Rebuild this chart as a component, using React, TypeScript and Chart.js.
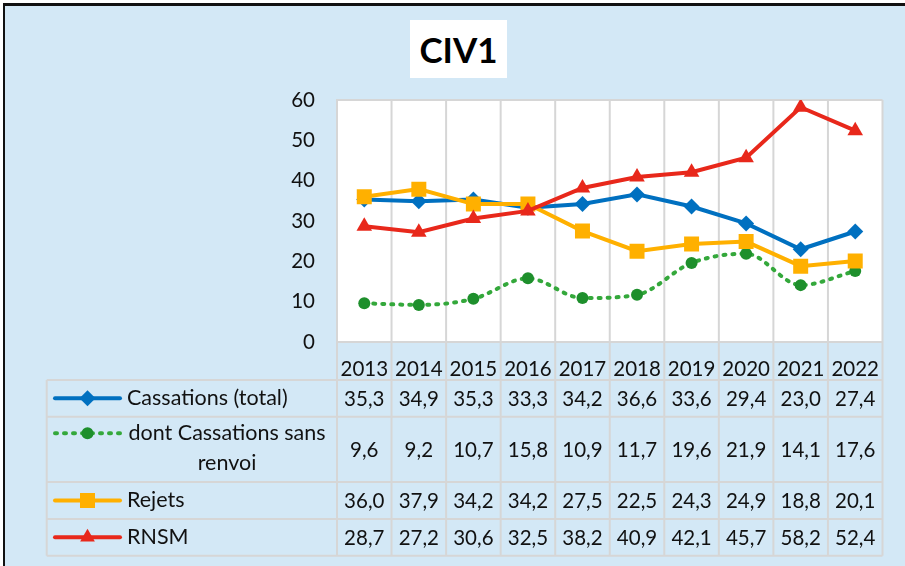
import React, { useEffect, useRef } from 'react';
import { Chart, registerables } from 'chart.js';

Chart.register(...registerables);

const years = ['2013', '2014', '2015', '2016', '2017', '2018', '2019', '2020', '2021', '2022'];
const cassationsTotal = [35.3, 34.9, 35.3, 33.3, 34.2, 36.6, 33.6, 29.4, 23.0, 27.4];
const cassationsSansRenvoi = [9.6, 9.2, 10.7, 15.8, 10.9, 11.7, 19.6, 21.9, 14.1, 17.6];
const rejets = [36.0, 37.9, 34.2, 34.2, 27.5, 22.5, 24.3, 24.9, 18.8, 20.1];
const rnsm = [28.7, 27.2, 30.6, 32.5, 38.2, 40.9, 42.1, 45.7, 58.2, 52.4];
const seriesNames = ['Cassations (total)', 'dont Cassations sans renvoi', 'Rejets', 'RNSM'];
const seriesLines = [['Cassations (total)'], ['dont Cassations sans', 'renvoi'], ['Rejets'], ['RNSM']];
const yMin = 0;
const yMax = 60;
const yStep = 10;
const title = 'CIV1';

const BLUE = '#0070C0';
const GREEN = '#34A83B';
const GREEN_DOT = '#1E8F2C';
const ORANGE = '#FFB000';
const RED = '#E8281B';
const GRID = '#D6D6D6';
const BG = '#D3E8F6';
const FONT = 'Lato, "Noto Sans", sans-serif';

const TABLE_LEFT = 46.7;
const ROW_LINES = [380, 416.7, 482, 519, 555.7];
const LEG_X0 = 55;
const LEG_X1 = 120;
const LEG_TEXT_X = 127;

function drawMarker(ctx: CanvasRenderingContext2D, kind: string, x: number, y: number, color: string) {
  ctx.save();
  ctx.fillStyle = color;
  ctx.setLineDash([]);
  ctx.beginPath();
  if (kind === 'diamond') {
    const r = 8;
    ctx.moveTo(x, y - r); ctx.lineTo(x + r, y); ctx.lineTo(x, y + r); ctx.lineTo(x - r, y); ctx.closePath();
  } else if (kind === 'circle') {
    ctx.arc(x, y, 6, 0, Math.PI * 2);
  } else if (kind === 'square') {
    ctx.rect(x - 7.5, y - 7.5, 15, 15);
  } else {
    const r = 8.5;
    const h = r * 1.5;
    const w = r * Math.sqrt(3);
    ctx.moveTo(x, y - h * 2 / 3); ctx.lineTo(x + w / 2, y + h / 3); ctx.lineTo(x - w / 2, y + h / 3); ctx.closePath();
  }
  ctx.fill();
  ctx.restore();
}

const tablePlugin = {
  id: 'dataTable',
  beforeDraw(chart: any) {
    const { ctx, chartArea: a } = chart;
    ctx.save();
    ctx.fillStyle = '#FFFFFF';
    ctx.fillRect(a.left, a.top, a.right - a.left, a.bottom - a.top);
    ctx.restore();
  },
  beforeDatasetsDraw(chart: any) {
    const { ctx, chartArea: a } = chart;
    const xs = chart.scales.x;
    const n = chart.data.labels.length;
    const step = (a.right - a.left) / n;
    const bottom = ROW_LINES[ROW_LINES.length - 1];
    ctx.save();
    ctx.strokeStyle = GRID;
    ctx.lineWidth = 2;
    for (let i = 0; i <= n; i++) {
      const x = i < n ? xs.getPixelForValue(i) - step / 2 : xs.getPixelForValue(n - 1) + step / 2;
      ctx.beginPath(); ctx.moveTo(x, a.top); ctx.lineTo(x, bottom); ctx.stroke();
    }
    ctx.beginPath(); ctx.moveTo(a.left, a.top); ctx.lineTo(a.right, a.top); ctx.stroke();
    ctx.beginPath(); ctx.moveTo(a.left, a.bottom); ctx.lineTo(a.right, a.bottom); ctx.stroke();
    for (const y of ROW_LINES) {
      ctx.beginPath(); ctx.moveTo(TABLE_LEFT, y); ctx.lineTo(a.right, y); ctx.stroke();
    }
    ctx.beginPath(); ctx.moveTo(TABLE_LEFT, ROW_LINES[0]); ctx.lineTo(TABLE_LEFT, bottom); ctx.stroke();
    ctx.restore();
  },
  afterDraw(chart: any) {
    const { ctx } = chart;
    const xs = chart.scales.x;
    const markers = ['diamond', 'circle', 'square', 'triangle'];
    const colors = [BLUE, GREEN, ORANGE, RED];
    const markerColors = [BLUE, GREEN_DOT, ORANGE, RED];
    ctx.save();
    ctx.fillStyle = '#111111';
    ctx.textBaseline = 'middle';
    chart.data.datasets.forEach((ds: any, r: number) => {
      const top = ROW_LINES[r];
      const bot = ROW_LINES[r + 1];
      const mid = (top + bot) / 2;
      ctx.font = `20.5px ${FONT}`;
      ctx.textAlign = 'center';
      ds.data.forEach((v: number, i: number) => {
        ctx.fillText(v.toFixed(1).replace('.', ','), xs.getPixelForValue(i), mid + 1);
      });
      const lines = seriesLines[r];
      const keyY = lines.length > 1 ? mid - 16 : mid;
      ctx.save();
      ctx.strokeStyle = colors[r];
      ctx.lineWidth = 4;
      ctx.lineCap = 'round';
      if (r === 1) ctx.setLineDash([2, 7]);
      ctx.beginPath(); ctx.moveTo(LEG_X0, keyY); ctx.lineTo(LEG_X1, keyY); ctx.stroke();
      ctx.restore();
      drawMarker(ctx, markers[r], (LEG_X0 + LEG_X1) / 2, keyY, markerColors[r]);
      ctx.fillStyle = '#111111';
      ctx.font = `21.5px ${FONT}`;
      if (lines.length > 1) {
        ctx.textAlign = 'center';
        const cx = 227;
        ctx.fillText(lines[0], cx, mid - 16);
        ctx.fillText(lines[1], cx, mid + 14);
      } else {
        ctx.textAlign = 'left';
        ctx.fillText(lines[0], LEG_TEXT_X, mid);
      }
    });
    ctx.restore();
  },
};

export default function App() {
  const canvasRef = useRef<HTMLCanvasElement | null>(null);

  useEffect(() => {
    document.body.style.margin = '0';
    const canvas = canvasRef.current;
    if (!canvas) return;
    const chart = new Chart(canvas, {
      type: 'line',
      data: {
        labels: years,
        datasets: [
          {
            label: seriesNames[0], data: cassationsTotal, borderColor: BLUE, backgroundColor: BLUE,
            borderWidth: 4, pointStyle: 'rectRot', pointRadius: 8, pointBackgroundColor: BLUE,
            pointBorderWidth: 0, tension: 0, order: 4,
          },
          {
            label: seriesNames[1], data: cassationsSansRenvoi, borderColor: GREEN, backgroundColor: GREEN_DOT,
            borderWidth: 4, borderDash: [2, 7], borderCapStyle: 'round', pointStyle: 'circle', pointRadius: 6,
            pointBackgroundColor: GREEN_DOT, pointBorderWidth: 0, cubicInterpolationMode: 'monotone', tension: 0.3, order: 3,
          },
          {
            label: seriesNames[2], data: rejets, borderColor: ORANGE, backgroundColor: ORANGE,
            borderWidth: 4, pointStyle: 'rect', pointRadius: 10.6, pointBackgroundColor: ORANGE,
            pointBorderWidth: 0, tension: 0, order: 2,
          },
          {
            label: seriesNames[3], data: rnsm, borderColor: RED, backgroundColor: RED,
            borderWidth: 4, pointStyle: 'triangle', pointRadius: 9, pointBackgroundColor: RED,
            pointBorderWidth: 0, tension: 0, order: 1,
          },
        ],
      },
      options: {
        animation: false,
        responsive: false,
        maintainAspectRatio: false,
        devicePixelRatio: 1,
        layout: { padding: { left: 0, top: 100, right: 22.5, bottom: 186 } },
        plugins: { legend: { display: false }, tooltip: { enabled: false }, title: { display: false } },
        scales: {
          x: {
            offset: true,
            grid: { display: false, offset: true },
            border: { display: false },
            ticks: { color: '#111111', font: { family: FONT, size: 20.5 }, padding: 7, maxRotation: 0, autoSkip: false },
            afterFit: (s: any) => { s.height = 38; },
          },
          y: {
            min: yMin, max: yMax,
            grid: { display: false, drawTicks: false },
            border: { display: true, color: GRID, width: 2 },
            ticks: { stepSize: yStep, color: '#111111', font: { family: FONT, size: 20.5 }, padding: 22 },
            afterFit: (s: any) => { s.width = 337; },
          },
        },
      },
      plugins: [tablePlugin],
    } as any);
    return () => chart.destroy();
  }, []);

  return (
    <div style={{ position: 'fixed', left: 0, top: 0, width: 905, height: 566, overflow: 'hidden', background: '#FFFFFF' }}>
      <div style={{ position: 'absolute', left: 3, top: 3, width: 1000, height: 1000, background: BG, borderLeft: '2px solid #111', borderTop: '3px solid #111' }} />
      <div style={{
        position: 'absolute', left: 410, top: 20, width: 97, height: 58, background: '#FFFFFF',
        display: 'flex', alignItems: 'center', justifyContent: 'center',
        fontFamily: FONT, fontWeight: 700, fontSize: 35, color: '#000',
      }}>{title}</div>
      <canvas ref={canvasRef} width={905} height={566} style={{ position: 'absolute', left: 0, top: 0, width: 905, height: 566 }} />
    </div>
  );
}
